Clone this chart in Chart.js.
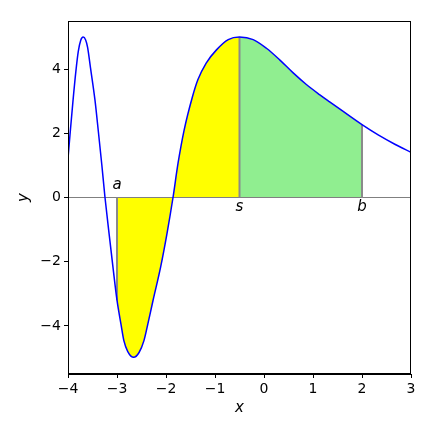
<!DOCTYPE html>
<html><head><meta charset="utf-8">
<script src="https://cdn.jsdelivr.net/npm/chart.js@4"></script>
<style>html,body{margin:0;padding:0;background:#fff}#wrap{width:432px;height:432px}</style>
</head><body><div id="wrap"><canvas id="c" width="432" height="432"></canvas></div>
<script>
// curve samples
const xs = [-4.00,-3.95,-3.90,-3.84,-3.79,-3.74,-3.69,-3.64,-3.60,-3.54,-3.45,-3.38,-3.31,-3.245,-3.16,-3.08,-3.00,-2.92,-2.86,-2.78,-2.66,-2.55,-2.45,-2.37,-2.265,-2.11,-1.98,-1.857,-1.755,-1.63,-1.46,-1.35,-1.18,-0.97,-0.73,-0.50,-0.22,0.05,0.32,0.59,0.865,1.14,1.34,1.58,2.00,2.33,2.67,3.00];
const ys = [1.22,2.12,2.98,3.92,4.55,4.90,5.00,4.91,4.68,4.03,3.04,2.05,1.02,0.00,-1.15,-2.20,-3.20,-3.94,-4.46,-4.80,-4.98,-4.83,-4.46,-3.94,-3.21,-2.17,-1.125,0.00,1.06,2.10,3.14,3.67,4.19,4.60,4.92,5.00,4.92,4.65,4.29,3.89,3.52,3.20,2.98,2.72,2.27,1.95,1.66,1.41];
const markNames = ['a','s','b'];
const markXs = [-3, -0.5, 2];
const xTicks = [-4,-3,-2,-1,0,1,2,3];
const yTicks = [-4,-2,0,2,4];

const pts = xs.map((x,i)=>({x:x,y:ys[i]}));
const valAt = x => ys[xs.indexOf(x)];
const seg = (lo,hi) => pts.filter(p=>p.x>=lo-1e-9 && p.x<=hi+1e-9);

const FONT = "'DejaVu Sans', sans-serif";
const MODE = 'monotone';
const datasets = [
  {data: pts, borderColor:'#0000ff', borderWidth:1.5, pointRadius:0, fill:false, cubicInterpolationMode:MODE, order:0},
  {data: seg(markXs[0],markXs[1]), borderWidth:0, borderColor:'rgba(0,0,0,0)', backgroundColor:'#ffff00', pointRadius:0, fill:'origin', cubicInterpolationMode:MODE, order:3},
  {data: seg(markXs[1],markXs[2]), borderWidth:0, borderColor:'rgba(0,0,0,0)', backgroundColor:'#90ee90', pointRadius:0, fill:'origin', cubicInterpolationMode:MODE, order:3},
  {data: [{x:xTicks[0],y:0},{x:xTicks[xTicks.length-1],y:0}], borderColor:'#808080', borderWidth:1, pointRadius:0, fill:false, order:2}
];
markXs.forEach(mx=>{
  datasets.push({data:[{x:mx,y:0},{x:mx,y:valAt(mx)}], borderColor:'#8a8a8a', borderWidth:2, pointRadius:0, fill:false, tension:0, order:1});
});

const frame = {
  id:'frame',
  afterDatasetsDraw(chart){
    const {ctx, chartArea:a, scales:{x,y}} = chart;
    ctx.save();
    ctx.strokeStyle='#000'; ctx.lineWidth=1;
    ctx.strokeRect(a.left+0.5, a.top+0.5, a.right-a.left-1, a.bottom-a.top-1);
    ctx.fillStyle='#000';
    ctx.font = "italic 15px " + FONT;
    ctx.textAlign='center';
    markNames.forEach((n,i)=>{
      const px = x.getPixelForValue(markXs[i]);
      if(i===0){ ctx.textBaseline='bottom'; ctx.fillText(n, px, y.getPixelForValue(0)-5); }
      else { ctx.textBaseline='top'; ctx.fillText(n, px, y.getPixelForValue(0)+2); }
    });
    ctx.restore();
  }
};

const minus = v => String(v).replace('-', '\u2212');
new Chart(document.getElementById('c'), {
  type:'line',
  data:{datasets},
  plugins:[frame],
  options:{
    responsive:false, animation:false, devicePixelRatio:1,
    layout:{padding:{left:0,right:21,top:21,bottom:0}},
    plugins:{legend:{display:false}, tooltip:{enabled:false}},
    scales:{
      x:{type:'linear', min:-4, max:3,
        afterBuildTicks: s=>{ s.ticks = xTicks.map(v=>({value:v})); },
        afterFit: s=>{ s.height = 58; },
        grid:{drawOnChartArea:false, drawTicks:true, tickLength:4, tickColor:'#000'},
        border:{display:true, color:'#000'},
        ticks:{color:'#000', font:{family:FONT, size:14}, padding:3, callback:v=>minus(v), maxRotation:0},
        title:{display:true, text:'x', color:'#000', font:{family:FONT, size:15, style:'italic'}, padding:{top:0,bottom:15}}
      },
      y:{type:'linear', min:-5.5, max:5.5,
        afterBuildTicks: s=>{ s.ticks = yTicks.map(v=>({value:v})); },
        afterFit: s=>{ s.width = 68; },
        grid:{drawOnChartArea:false, drawTicks:true, tickLength:4, tickColor:'#000'},
        border:{display:true, color:'#000'},
        ticks:{color:'#000', font:{family:FONT, size:14}, padding:3, callback:v=>minus(v)},
        title:{display:true, text:'y', color:'#000', font:{family:FONT, size:15, style:'italic'}, padding:{top:15,bottom:0}}
      }
    }
  }
});
</script></body></html>
